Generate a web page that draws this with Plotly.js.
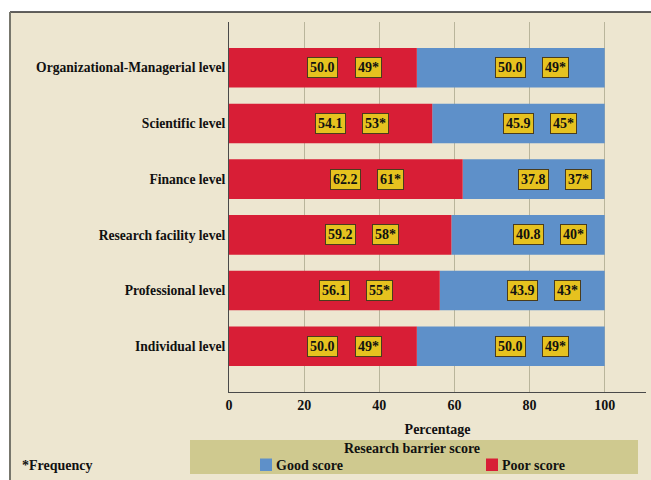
<!DOCTYPE html>
<html>
<head>
<meta charset="utf-8">
<script src="https://cdn.plot.ly/plotly-3.0.1.min.js"></script>
<style>
  html, body { margin: 0; padding: 0; background: #ffffff; }
  #chart { width: 651px; height: 480px; }
</style>
</head>
<body>
<div id="chart"></div>
<script>
// Barrier levels, listed top to bottom
const levels = [
  "Organizational-Managerial level",
  "Scientific level",
  "Finance level",
  "Research facility level",
  "Professional level",
  "Individual level"
];

// Percentages per score group
const poorPct = [50.0, 54.1, 62.2, 59.2, 56.1, 50.0];
const goodPct = [50.0, 45.9, 37.8, 40.8, 43.9, 50.0];

// Frequencies per score group
const poorFreq = [49, 53, 61, 58, 55, 49];
const goodFreq = [49, 45, 37, 40, 43, 49];

const xTicks = [0, 20, 40, 60, 80, 100];

const SERIF = '"Liberation Serif", "Times New Roman", serif';
const RED = '#d81e36';
const BLUE = '#5e90c9';
const KHAKI = '#cfc98f';
const CREAM = '#ede6d0';
const LABEL_BG = '#e6c21f';
const boldFont = size => ({ family: SERIF, size: size, color: '#111', weight: 'bold' });

const traces = [
  {
    type: 'bar', orientation: 'h', name: 'Good score',
    y: levels, x: goodPct, base: poorPct,
    marker: { color: BLUE, line: { width: 0 } },
    width: 0.71, hoverinfo: 'x+y'
  },
  {
    type: 'bar', orientation: 'h', name: 'Poor score',
    y: levels, x: poorPct,
    marker: { color: RED, line: { width: 0 } },
    width: 0.71, hoverinfo: 'x+y'
  }
];

// pixel helpers for paper-referenced items (plot area 229..646 x 22..392)
const px = v => (v - 229) / 417;
const py = v => (392 - v) / 370;

// Value tags: percentage at the middle of each segment, frequency just after it
function tag(x, y, text) {
  return {
    x: x, y: y, xref: 'x', yref: 'y', text: text, showarrow: false,
    font: boldFont(14),
    bgcolor: LABEL_BG, bordercolor: '#4a3c1c', borderwidth: 1, borderpad: 2
  };
}
const annotations = [];
levels.forEach((lv, i) => {
  const pMid = poorPct[i] / 2;
  const gMid = poorPct[i] + goodPct[i] / 2;
  annotations.push(tag(pMid, lv, poorPct[i].toFixed(1)));
  annotations.push(tag(pMid + 12, lv, poorFreq[i] + '*'));
  annotations.push(tag(gMid, lv, goodPct[i].toFixed(1)));
  annotations.push(tag(gMid + 12, lv, goodFreq[i] + '*'));
});

const note = (x, y, text, anchor) => ({
  xref: 'paper', yref: 'paper', x: px(x), y: py(y),
  xanchor: anchor, yanchor: 'middle', showarrow: false, text: text,
  font: boldFont(14)
});
annotations.push(note(20, 465, '*Frequency', 'left'));

const shapes = [
  // cream panel with its frame on the top and left edges
  { type: 'rect', xref: 'paper', yref: 'paper', layer: 'below',
    x0: px(10), x1: px(652), y0: py(12), y1: py(482),
    fillcolor: CREAM, line: { width: 0 } },
  { type: 'line', xref: 'paper', yref: 'paper', layer: 'below',
    x0: px(10), x1: px(652), y0: py(12), y1: py(12),
    line: { color: '#2e2e2e', width: 1.5 } },
  { type: 'line', xref: 'paper', yref: 'paper', layer: 'below',
    x0: px(10), x1: px(10), y0: py(12), y1: py(482),
    line: { color: '#77766c', width: 2 } },
  // legend panel
  { type: 'rect', xref: 'paper', yref: 'paper', layer: 'below',
    x0: px(190), x1: px(638), y0: py(440), y1: py(474),
    fillcolor: KHAKI, line: { width: 0 } }
];

// Legend panel: title, then one swatch + name per series
annotations.push(note(412, 448, 'Research barrier score', 'center'));
const legendItems = [
  { trace: traces[0], left: 260 },
  { trace: traces[1], left: 486 }
];
legendItems.forEach(item => {
  shapes.push({
    type: 'rect', xref: 'paper', yref: 'paper', layer: 'above',
    x0: px(item.left), x1: px(item.left + 12), y0: py(458.5), y1: py(471),
    fillcolor: item.trace.marker.color, line: { width: 0 }
  });
  annotations.push(note(item.left + 14, 465.5, item.trace.name, 'left'));
});

const layout = {
  width: 651, height: 480,
  margin: { l: 229, r: 5, t: 22, b: 88 },
  paper_bgcolor: '#ffffff',
  plot_bgcolor: KHAKI,
  barmode: 'overlay',
  showlegend: false,
  font: boldFont(14),
  xaxis: {
    range: [0, 111], tickvals: xTicks, ticktext: xTicks.map(String),
    showgrid: true, gridcolor: '#b9b59b', gridwidth: 1,
    zeroline: false, showline: true, linecolor: '#4a4a4a', linewidth: 1,
    ticks: '', tickfont: boldFont(14),
    title: { text: 'Percentage', standoff: 12, font: boldFont(14) },
    fixedrange: true
  },
  yaxis: {
    type: 'category', categoryorder: 'array', categoryarray: levels,
    range: [5.82, -0.82],
    showgrid: false, zeroline: false, showline: true, linecolor: '#4a4a4a', linewidth: 1,
    ticks: '', tickfont: boldFont(13.6),
    fixedrange: true
  },
  annotations: annotations,
  shapes: shapes
};

Plotly.newPlot('chart', traces, layout, { displayModeBar: false, staticPlot: true });
</script>
</body>
</html>
